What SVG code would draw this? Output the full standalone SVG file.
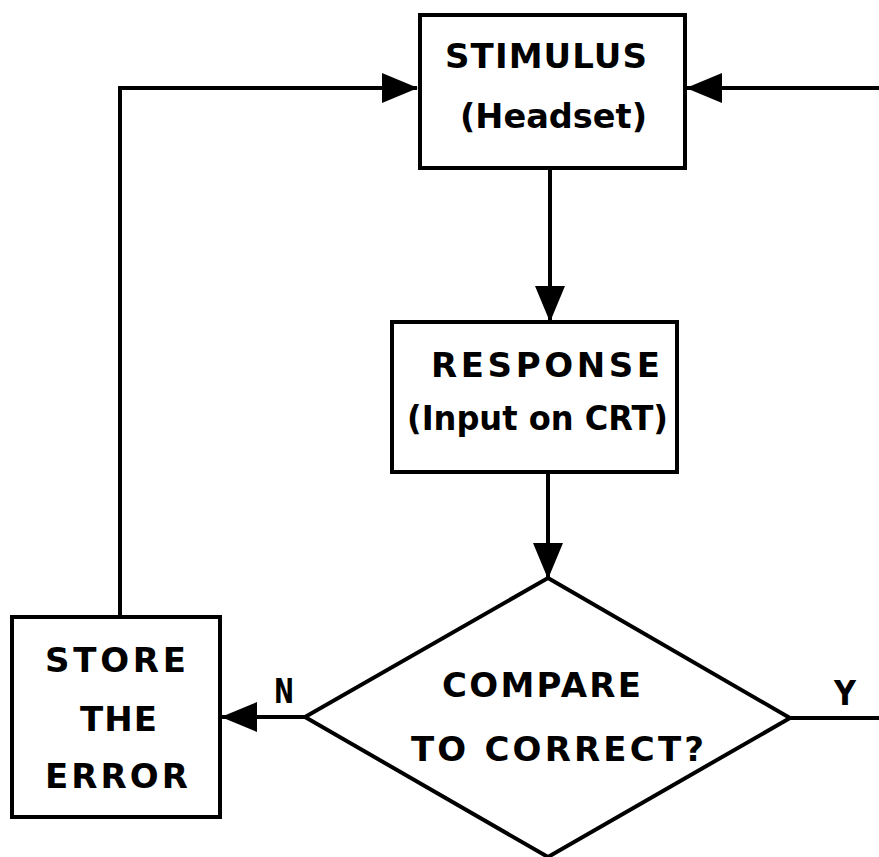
<svg xmlns="http://www.w3.org/2000/svg" width="879" height="857" viewBox="0 0 879 857">
<style>
.box{fill:#fff;stroke:#000;stroke-width:4}
.ln{fill:none;stroke:#000;stroke-width:4}
.t{font-family:"DejaVu Sans","Liberation Sans",sans-serif;font-weight:bold;font-size:34px;fill:#000}
</style>
<defs>
<marker id="ah" markerWidth="36" markerHeight="32" refX="35" refY="16" orient="auto" markerUnits="userSpaceOnUse">
<path d="M0,1 L36,16 L0,31 Z" fill="#000"/>
</marker>
</defs>
<rect width="879" height="857" fill="#fff"/>
<g id="connectors">
<path class="ln" d="M120,617 V88 H417" marker-end="url(#ah)"/>
<path class="ln" d="M879,88 H687" marker-end="url(#ah)"/>
<path class="ln" d="M550,168 V321" marker-end="url(#ah)"/>
<path class="ln" d="M548,472 V578" marker-end="url(#ah)"/>
<path class="ln" d="M305,717 H222" marker-end="url(#ah)"/>
<path class="ln" d="M790,718 H879"/>
<text class="t" x="274" y="703" textLength="20" lengthAdjust="spacingAndGlyphs">N</text>
<text class="t" x="834" y="705" textLength="22" lengthAdjust="spacingAndGlyphs">Y</text>
</g>
<g id="stimulus">
<rect class="box" x="420" y="15" width="265" height="153"/>
<text class="t" x="445" y="68" textLength="202" lengthAdjust="spacing">STIMULUS</text>
<text class="t" x="460" y="128" textLength="187" lengthAdjust="spacingAndGlyphs">(Headset)</text>
</g>
<g id="response">
<rect class="box" x="392" y="322" width="285" height="150"/>
<text class="t" x="431" y="377" textLength="229" lengthAdjust="spacing">RESPONSE</text>
<text class="t" x="407" y="430" textLength="261" lengthAdjust="spacingAndGlyphs">(Input on CRT)</text>
</g>
<g id="compare">
<polygon class="box" points="548,578 790,718 548,857 305,717"/>
<text class="t" x="442" y="697" textLength="199" lengthAdjust="spacing">COMPARE</text>
<text class="t" x="411" y="761" textLength="293" lengthAdjust="spacing">TO CORRECT?</text>
</g>
<g id="store">
<rect class="box" x="12" y="617" width="208" height="200"/>
<text class="t" x="45" y="672" textLength="141" lengthAdjust="spacing">STORE</text>
<text class="t" x="80" y="731" textLength="77" lengthAdjust="spacing">THE</text>
<text class="t" x="45" y="788" textLength="143" lengthAdjust="spacing">ERROR</text>
</g>
</svg>
